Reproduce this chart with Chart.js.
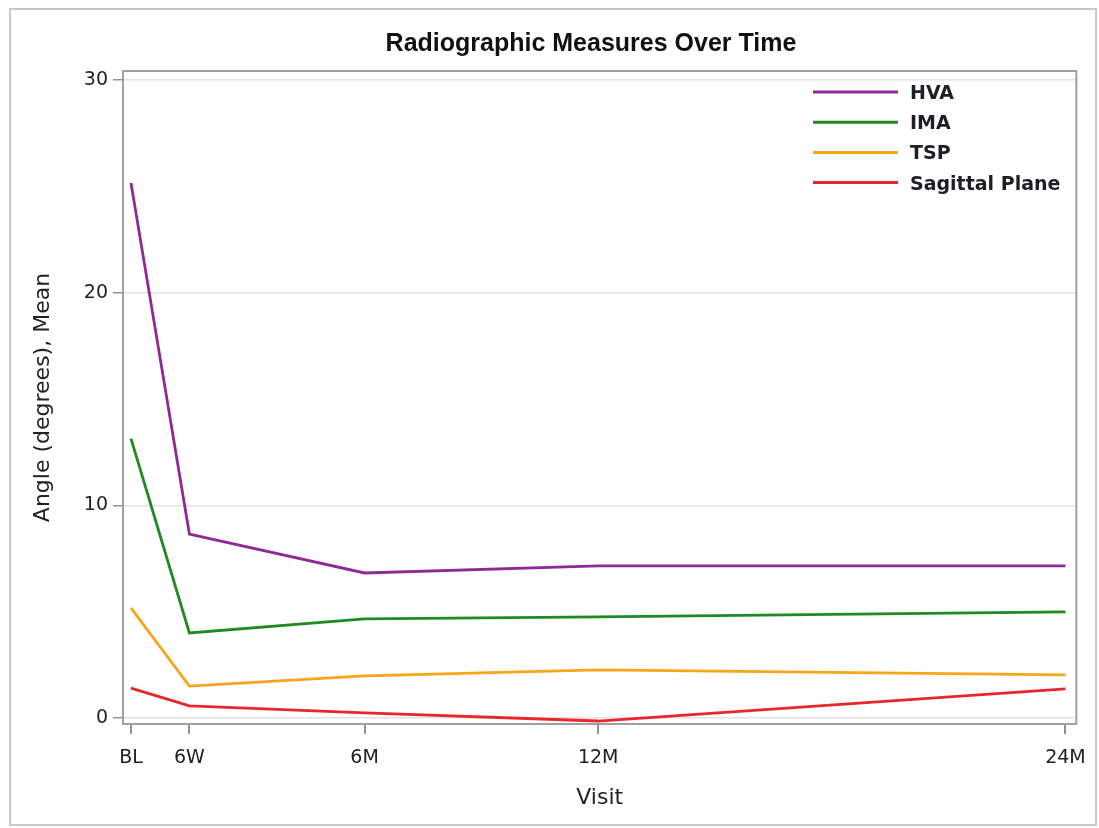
<!DOCTYPE html>
<html>
<head>
<meta charset="utf-8">
<script src="https://cdn.jsdelivr.net/npm/chart.js@4.4.1/dist/chart.umd.min.js"></script>
<style>
  html, body { margin: 0; padding: 0; background: #fff; }
  #wrap { position: relative; width: 1099px; height: 828px; }
  #frame { position: absolute; left: 9px; top: 8px; width: 1088px; height: 818px; border: 2px solid #c8c8c8; box-sizing: border-box; pointer-events: none; }
  canvas { position: absolute; left: 0; top: 0; }
</style>
</head>
<body>
<div id="wrap">
  <canvas id="myChart" width="1099" height="828"></canvas>
  <div id="frame"></div>
</div>
<script>
// visit positions in months
var visitMonths = [0, 1.5, 6, 12, 24];
var visitLabels = ['BL', '6W', '6M', '12M', '24M'];

var hva = [25.15, 8.65, 6.82, 7.15, 7.15];
var ima = [13.14, 4.0, 4.66, 4.76, 4.99];
var tsp = [5.18, 1.5, 1.98, 2.26, 2.03];
var sagittal = [1.41, 0.57, 0.24, -0.14, 1.37];

var yTicks = [0, 10, 20, 30];

var chartTitle = 'Radiographic Measures Over Time';

function toPoints(vals) {
  return vals.map((v, i) => ({x: visitMonths[i], y: v}));
}

var titleFont = '"Liberation Sans", Arial, sans-serif';
var textFont = '"DejaVu Sans", Verdana, sans-serif';

// frame around the plot area + the title
var framePlugin = {
  id: 'frame',
  afterDraw(chart) {
    var a = chart.chartArea, ctx = chart.ctx;
    ctx.save();
    ctx.strokeStyle = '#a0a0a0';
    ctx.lineWidth = 2;
    ctx.strokeRect(a.left, a.top, a.right - a.left, a.bottom - a.top);
    ctx.fillStyle = '#111';
    ctx.font = 'bold 25px ' + titleFont;
    ctx.textAlign = 'center';
    ctx.textBaseline = 'middle';
    ctx.fillText(chartTitle, 591, 44);
    ctx.restore();
  }
};

// legend drawn inside the plot, top right
var insideLegend = {
  id: 'insideLegend',
  afterDatasetsDraw(chart) {
    var ctx = chart.ctx;
    ctx.save();
    ctx.font = 'bold 19px ' + textFont;
    ctx.textBaseline = 'middle';
    chart.data.datasets.forEach((ds, i) => {
      var y = 92 + i * 30.2;
      ctx.strokeStyle = ds.borderColor;
      ctx.lineWidth = 3;
      ctx.beginPath();
      ctx.moveTo(813, y);
      ctx.lineTo(898, y);
      ctx.stroke();
      ctx.fillStyle = '#1e1e28';
      ctx.fillText(ds.label, 910, y + 2);
    });
    ctx.restore();
  }
};

var data = {
  datasets: [
    { label: 'HVA', data: toPoints(hva), borderColor: '#8e2a96' },
    { label: 'IMA', data: toPoints(ima), borderColor: '#1f8a22' },
    { label: 'TSP', data: toPoints(tsp), borderColor: '#f8a51c' },
    { label: 'Sagittal Plane', data: toPoints(sagittal), borderColor: '#e8262c' }
  ]
};
data.datasets.forEach(ds => {
  ds.borderWidth = 2.8;
  ds.pointRadius = 0;
  ds.tension = 0;
  ds.fill = false;
});

var config = {
  type: 'line',
  data: data,
  plugins: [framePlugin, insideLegend],
  options: {
    responsive: false,
    animation: false,
    layout: { padding: { left: 0, right: 22, top: 71, bottom: 0 } },
    plugins: {
      legend: { display: false },
      tooltip: { enabled: false },
      title: { display: false }
    },
    scales: {
      x: {
        type: 'linear',
        min: -0.205,
        max: 24.28,
        afterBuildTicks: function(scale) {
          scale.ticks = visitMonths.map(v => ({value: v}));
        },
        afterFit: function(scale) { scale.height = 104; },
        ticks: {
          autoSkip: false,
          maxRotation: 0,
          color: '#222',
          font: { family: textFont, size: 19 },
          padding: 13,
          callback: function(value) {
            var i = visitMonths.indexOf(value);
            return i >= 0 ? visitLabels[i] : '';
          }
        },
        grid: { drawOnChartArea: false, tickLength: 10, tickColor: '#909090', lineWidth: 2 },
        border: { display: false },
        title: {
          display: true,
          text: 'Visit',
          color: '#222',
          font: { family: textFont, size: 22 },
          padding: { top: 0, bottom: 17 }
        }
      },
      y: {
        type: 'linear',
        min: -0.28,
        max: 30.42,
        afterBuildTicks: function(scale) {
          scale.ticks = yTicks.map(v => ({value: v}));
        },
        afterFit: function(scale) { scale.width = 123; },
        ticks: {
          color: '#222',
          font: { family: textFont, size: 19 },
          padding: 5
        },
        grid: { color: '#e2e2e2', lineWidth: 1.5, tickLength: 10, tickColor: '#909090' },
        border: { display: false },
        title: {
          display: true,
          text: 'Angle (degrees), Mean',
          color: '#222',
          font: { family: textFont, size: 22 },
          padding: { top: 30, bottom: 0 }
        }
      }
    }
  }
};

var myChart = new Chart(document.getElementById('myChart'), config);
</script>
</body>
</html>
